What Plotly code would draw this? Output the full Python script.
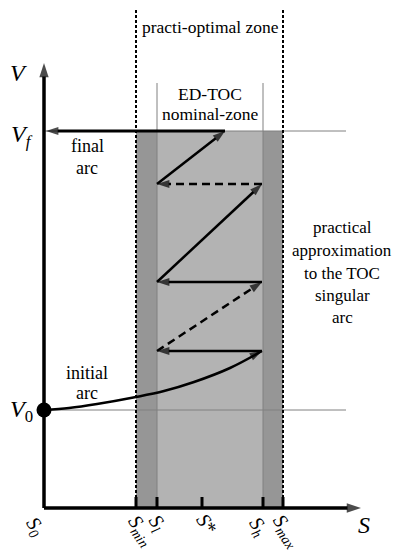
import plotly.graph_objects as go

# ---------------- data (S along x, V along y; arbitrary schematic units) ----------------
tick_names = ["S0", "Smin", "Sl", "S*", "Sh", "Smax"]
tick_S = [0, 92, 113, 158, 219, 239]
tick_labels = ["<i>S</i><sub><i>0</i></sub>", "<i>S</i><sub><i>min</i></sub>",
               "<i>S</i><sub><i>l</i></sub>", "<i>S</i>*", "<i>S</i><sub><i>h</i></sub>",
               "<i>S</i><sub><i>max</i></sub>"]
tick_label_S = [-9, 97, 113, 163, 214, 243]
tick_label_V = [-18, -22, -15, -16, -18, -23]

V0 = 98
Vf = 377
V_axis_top = 445
S_axis_end = 317
zone_top = 503
nominal_top = 425
guide_end = 302

# initial arc (curved trajectory from V0)
arc_S = [0, 25, 53, 92, 120, 150, 186, 218]
arc_V = [98, 100, 104, 111, 117, 126, 140, 157]

# zig-zag approximation of the singular arc + final arc
zig_S = [218, 113, 218, 113, 218, 113, 181, 2]
zig_V = [157, 157, 226, 226, 324, 324, 377, 377]
zig_dash = ["solid", "dash", "solid", "solid", "dash", "solid", "solid"]
zig_width = [2.5, 2.5, 2.5, 2.5, 2.5, 2.5, 3]

font_family = "Liberation Serif, Times New Roman, Times, DejaVu Serif, serif"

fig = go.Figure()

# shaded zones
fig.add_shape(type="rect", x0=tick_S[1], x1=tick_S[5], y0=0, y1=Vf,
              fillcolor="#969696", line_width=0, layer="below")
fig.add_shape(type="rect", x0=tick_S[2], x1=tick_S[4], y0=0, y1=Vf,
              fillcolor="#b3b3b3", line_width=0, layer="below")

# thin gray guide lines
for s in (tick_S[2], tick_S[4]):
    fig.add_trace(go.Scatter(x=[s, s], y=[0, nominal_top], mode="lines",
                             line=dict(color="#808080", width=1), hoverinfo="skip"))
for v in (V0, Vf):
    fig.add_trace(go.Scatter(x=[0, guide_end], y=[v, v], mode="lines",
                             line=dict(color="#808080", width=1), hoverinfo="skip"))

# dotted practi-optimal zone borders
for s in (tick_S[1], tick_S[5]):
    fig.add_trace(go.Scatter(x=[s, s], y=[0, zone_top], mode="lines",
                             line=dict(color="black", width=2, dash="3px,2px"),
                             hoverinfo="skip"))

# initial arc with arrow head
n = len(arc_S)
fig.add_trace(go.Scatter(x=arc_S, y=arc_V, mode="lines+markers",
                         line=dict(color="black", width=2.5, shape="spline"),
                         marker=dict(symbol="arrow", angleref="previous",
                                     size=[0] * (n - 1) + [13], color="black",
                                     line=dict(width=0)),
                         hoverinfo="skip"))

# zig-zag segments with arrow heads
for i in range(len(zig_S) - 1):
    fig.add_trace(go.Scatter(x=[zig_S[i], zig_S[i + 1]], y=[zig_V[i], zig_V[i + 1]],
                             mode="lines+markers",
                             line=dict(color="black", width=zig_width[i],
                                       dash="8px,5px" if zig_dash[i] == "dash" else "solid"),
                             marker=dict(symbol="arrow", angleref="previous",
                                         size=[0, 13], color="black", line=dict(width=0)),
                             hoverinfo="skip"))

# axes with arrow heads
fig.add_trace(go.Scatter(x=[0, 0], y=[0, V_axis_top], mode="lines+markers",
                         line=dict(color="black", width=3.5),
                         marker=dict(symbol="arrow", angleref="previous", size=[0, 15],
                                     color="black", line=dict(width=0)),
                         hoverinfo="skip"))
fig.add_trace(go.Scatter(x=[0, S_axis_end], y=[0, 0], mode="lines+markers",
                         line=dict(color="black", width=3.5),
                         marker=dict(symbol="arrow", angleref="previous", size=[0, 15],
                                     color="black", line=dict(width=0)),
                         hoverinfo="skip"))

# tick marks
for s in tick_S[1:]:
    fig.add_trace(go.Scatter(x=[s, s], y=[0, 11], mode="lines",
                             line=dict(color="black", width=3), hoverinfo="skip"))

# V0 point
fig.add_trace(go.Scatter(x=[0], y=[V0], mode="markers",
                         marker=dict(color="black", size=15), hoverinfo="skip"))

annotations = []
# tick labels (rotated)
for lbl, s, v in zip(tick_labels, tick_label_S, tick_label_V):
    annotations.append(dict(x=s, y=v, text=lbl, showarrow=False, textangle=55,
                            font=dict(family=font_family, size=20, color="black")))
# axis names
annotations.append(dict(x=320, y=-17, text="<i>S</i>", showarrow=False,
                        font=dict(family=font_family, size=24, color="black")))
annotations.append(dict(x=-26, y=435, text="<i>V</i>", showarrow=False,
                        font=dict(family=font_family, size=24, color="black")))
annotations.append(dict(x=-22, y=372, text="<i>V</i><sub><i>f</i></sub>", showarrow=False,
                        font=dict(family=font_family, size=24, color="black")))
annotations.append(dict(x=-23, y=97, text="<i>V</i><sub>0</sub>", showarrow=False,
                        font=dict(family=font_family, size=24, color="black")))

text_items = [
    ("practi-optimal zone", 166, 481, 17.5),
    ("ED-TOC", 166, 414, 17.5),
    ("nominal-zone", 166, 394, 17.5),
    ("final", 43, 362, 18),
    ("arc", 43, 340, 18),
    ("initial", 43, 135, 18),
    ("arc", 43, 115, 18),
    ("practical", 298, 281, 17),
    ("approximation", 298, 258, 17),
    ("to the TOC", 298, 235, 17),
    ("singular", 298, 213, 17),
    ("arc", 298, 191, 17),
]
for t, s, v, fs in text_items:
    annotations.append(dict(x=s, y=v, text=t, showarrow=False,
                            font=dict(family=font_family, size=fs, color="black")))

# the page body adds an 8px offset, so the visible window starts 8 units in
fig.update_layout(
    width=401, height=554,
    margin=dict(l=0, r=0, t=0, b=0),
    paper_bgcolor="white", plot_bgcolor="white",
    showlegend=False,
    font=dict(family=font_family),
    xaxis=dict(range=[-36, 365], visible=False, fixedrange=True),
    yaxis=dict(range=[-54, 500], visible=False, fixedrange=True),
    annotations=annotations,
)

fig.write_html("out.html")
